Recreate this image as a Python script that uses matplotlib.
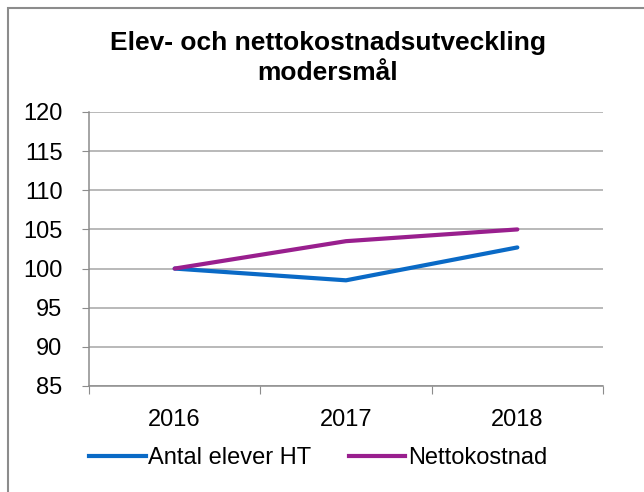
import matplotlib
matplotlib.use("Agg")
import matplotlib.pyplot as plt
from matplotlib.patches import Rectangle
from matplotlib.lines import Line2D

years = ["2016", "2017", "2018"]
antal_elever = [100.0, 98.5, 102.7]
nettokostnad = [100.0, 103.5, 105.0]
series_names = ["Antal elever HT", "Nettokostnad"]
title = "Elev- och nettokostnadsutveckling\nmodersmål"
yticks = [85, 90, 95, 100, 105, 110, 115, 120]

plt.rcParams['font.family'] = ['Liberation Sans', 'DejaVu Sans']

W, H = 644, 492
fig = plt.figure(figsize=(W/100, H/100), dpi=100)
fig.patch.set_facecolor('white')

# outer chart frame (cropped at right/bottom)
fig.add_artist(Rectangle((8/W, -0.2), 2, 1 - 8/H + 0.2, transform=fig.transFigure,
                         fill=False, edgecolor='#8c8c8c', linewidth=1.5))

ax = fig.add_axes([89/W, 1 - 386/H, (603 - 89)/W, (386 - 112)/H])
x = list(range(len(years)))
blue = '#0a6ac6'
purple = '#991f8e'
ax.plot(x, antal_elever, color=blue, linewidth=3.0, solid_capstyle='round', zorder=3)
ax.plot(x, nettokostnad, color=purple, linewidth=3.0, solid_capstyle='round', zorder=3)

ax.set_xlim(-0.5, len(years) - 0.5)
ax.set_ylim(85, 120)
ax.set_yticks(yticks)
ax.set_yticklabels([str(v) for v in yticks])
ax.set_xticks([i - 0.5 for i in range(len(years) + 1)])
ax.set_xticklabels([])
ax.set_xticks(x, minor=True)
ax.set_xticklabels(years, minor=True)
ax.tick_params(axis='x', which='minor', length=0, pad=16.5, labelsize=17)
ax.tick_params(axis='x', which='major', length=5.5, color='#8c8c8c', direction='out')
ax.tick_params(axis='y', length=5, color='#8c8c8c', direction='out', labelsize=17, pad=14)
ax.grid(axis='y', color='#a6a6a6', linewidth=1.1, zorder=1)
for s in ['top', 'right']:
    ax.spines[s].set_visible(False)
for s in ['left', 'bottom']:
    ax.spines[s].set_color('#8c8c8c')
    ax.spines[s].set_linewidth(1.1)
ax.set_axisbelow(True)

fig.text(328/W, 1 - 58/H, title, ha='center', va='center', fontsize=19,
         fontweight='bold', linespacing=1.3)

handles = [Line2D([], [], color=blue, linewidth=3.0),
           Line2D([], [], color=purple, linewidth=3.0)]
fig.legend(handles, series_names, loc='center', bbox_to_anchor=(318/W, 1 - 458/H),
           ncol=2, frameon=False, fontsize=17, handlelength=2.4, handletextpad=0.1,
           columnspacing=1.6)

fig.savefig('out.png', dpi=100)
